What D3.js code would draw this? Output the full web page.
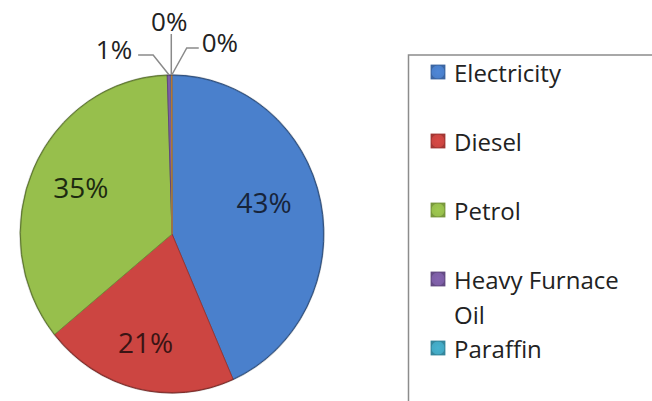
<!DOCTYPE html>
<html>
<head>
<meta charset="utf-8">
<script src="https://cdn.jsdelivr.net/npm/d3@7"></script>
<style>
  body { margin: 0; background: #fff; }
  svg { display: block; font-family: "Open Sans", sans-serif; }
</style>
</head>
<body>
<div class="chart"></div>
<script>
var width = 652
var height = 401

// data (six labels on the pie, five legend entries visible)
var categories = ['Electricity', 'Diesel', 'Petrol', 'Heavy Furnace Oil', 'Paraffin', 'Other']
var shares = [43.4, 20.7, 35.4, 0.4, 0.05, 0.05]
var shareLabels = ['43%', '21%', '35%', '1%', '0%', '0%']
var legendLines = [['Electricity'], ['Diesel'], ['Petrol'], ['Heavy Furnace', 'Oil'], ['Paraffin']]

var colours = ['#4a80cc', '#cc4541', '#97bf4c', '#7d5ea6', '#43a9c4', '#f59d3d']
var textColours = ['#17243a', '#3a1414', '#1d2a10', '#333', '#333', '#333']

var cx = 172, cy = 234
var r = 159
var sx = 0.955   // pie is a touch narrower than tall

var svg = d3.select('.chart').append('svg')
  .attr('width', width)
  .attr('height', height)

var defs = svg.append('defs')
colours.forEach((c, i) => {
  var g = defs.append('radialGradient').attr('id', 'grad' + i)
    .attr('cx', '50%').attr('cy', '50%').attr('r', '50%')
  g.append('stop').attr('offset', '0%').attr('stop-color', d3.color(c).brighter(0.15))
  g.append('stop').attr('offset', '88%').attr('stop-color', c)
  g.append('stop').attr('offset', '100%').attr('stop-color', d3.color(c).darker(0.6))
})

var pie = d3.pie().sort(null).value(d => d)
var arcs = pie(shares)

var arc = d3.arc().innerRadius(0).outerRadius(r)
var labelArc = d3.arc().innerRadius(r * 0.66).outerRadius(r * 0.66)

var pieG = svg.append('g')
  .attr('transform', `translate(${cx},${cy}) scale(${sx},1)`)

pieG.selectAll('path.slice')
  .data(arcs)
  .enter().append('path')
  .attr('class', 'slice')
  .attr('d', arc)
  .attr('fill', (d, i) => colours[i])
  .attr('stroke', (d, i) => d3.color(colours[i]).darker(0.8))
  .attr('stroke-width', 1)

pieG.append('circle')
  .attr('r', r)
  .attr('fill', 'none')
  .attr('stroke', 'rgba(0,0,0,0.18)')
  .attr('stroke-width', 2)

// big labels
var bigShift = [[-6, -10], [-3, 6], [0, -4]]
var big = arcs.filter(d => d.data > 5)
svg.selectAll('text.big')
  .data(big)
  .enter().append('text')
  .attr('class', 'big')
  .attr('x', d => cx + labelArc.centroid(d)[0] * sx + bigShift[d.index][0])
  .attr('y', d => cy + labelArc.centroid(d)[1] + bigShift[d.index][1])
  .attr('text-anchor', 'middle')
  .attr('dominant-baseline', 'central')
  .attr('font-size', 28)
  .attr('fill', d => textColours[d.index])
  .text(d => shareLabels[d.index])

// small slices: labels pushed out with leaders
var small = arcs.filter(d => d.data <= 5)
// [dx, dy, anchor, elbow dx]
var nudge = [[-37, -26, 'end', -16], [-2, -54, 'middle', 0], [30, -33, 'start', 15]]
small.forEach((d, k) => {
  var mid = (d.startAngle + d.endAngle) / 2
  var x0 = cx + Math.sin(mid) * r * sx
  var y0 = cy - Math.cos(mid) * r
  var n = nudge[k]
  var tx = x0 + n[0], ty = y0 + n[1]
  var pts
  if (n[2] == 'middle') {
    pts = [[x0, y0], [x0, ty + 13]]
  } else {
    pts = [[x0, y0], [x0 + n[3], ty + 6], [tx + (n[0] < 0 ? 6 : -3), ty + 6]]
  }
  svg.append('path')
    .attr('d', d3.line()(pts))
    .attr('fill', 'none')
    .attr('stroke', '#8a8a8a')
    .attr('stroke-width', 1.5)
  svg.append('text')
    .attr('x', tx)
    .attr('y', ty)
    .attr('text-anchor', n[2])
    .attr('dominant-baseline', 'central')
    .attr('font-size', 26)
    .attr('fill', '#222')
    .text(shareLabels[d.index])
})

// legend
var legend = svg.append('g')
svg.append('path')
  .attr('d', d3.line()([[width + 5, 55], [408.5, 55], [408.5, height + 5]]))
  .attr('fill', 'none')
  .attr('stroke', '#8c8c8c')
  .attr('stroke-width', 1.5)

var shown = categories.slice(0, legendLines.length)
var ly = d3.scalePoint().domain(shown).range([72, 72 + 69 * (shown.length - 1)])

var items = legend.selectAll('g.item')
  .data(shown)
  .enter().append('g')
  .attr('class', 'item')
  .attr('transform', d => `translate(431,${ly(d)})`)

items.append('rect')
  .attr('x', 0).attr('y', -7)
  .attr('width', 14).attr('height', 14)
  .attr('fill', (d, i) => `url(#grad${i})`)
  .attr('stroke', (d, i) => d3.color(colours[i]).darker(0.7))
  .attr('stroke-width', 0.8)

items.append('text')
  .attr('x', 23)
  .attr('font-size', 24)
  .attr('fill', '#222')
  .each(function(d, i) {
    d3.select(this).selectAll('tspan')
      .data(legendLines[i])
      .enter().append('tspan')
      .attr('x', 23)
      .attr('y', (t, j) => j * 35)
      .attr('dominant-baseline', 'central')
      .text(t => t)
  })
</script>
</body>
</html>
